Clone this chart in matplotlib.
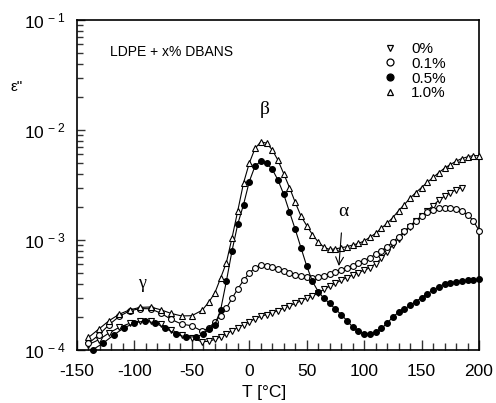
import numpy as np
import matplotlib
matplotlib.use("Agg")
import matplotlib.pyplot as plt
from matplotlib.lines import Line2D
from matplotlib.ticker import FixedLocator, FixedFormatter, MultipleLocator

plt.rcParams['font.family'] = ['Liberation Sans', 'DejaVu Sans']
plt.rcParams['mathtext.fontset'] = 'custom'
plt.rcParams['mathtext.rm'] = 'Liberation Sans'
plt.rcParams['mathtext.default'] = 'regular'
plt.rcParams['axes.unicode_minus'] = False

# ---------------- data ----------------
# measured temperatures (sparser below -40 °C)
T_a = [-140, -131, -122, -113, -104, -95, -86, -77, -68, -59, -50, -41] + list(range(-35, 205, 5))
T_05 = [-136, -127, -118, -109, -100, -91, -82, -73, -64, -55, -46, -40] + list(range(-35, 205, 5))
T_00 = [-140, -131, -122, -113, -104, -95, -86, -77, -68, -59, -50, -41] + list(range(-35, 190, 5))

eps_00 = [1.12e-4, 1.24e-4, 1.43e-4, 1.61e-4, 1.75e-4, 1.84e-4, 1.85e-4, 1.72e-4,
          1.53e-4, 1.37e-4, 1.28e-4, 1.19e-4,
          1.20e-4, 1.25e-4, 1.32e-4,
          1.40e-4, 1.50e-4, 1.60e-4, 1.70e-4, 1.80e-4, 1.92e-4, 2.02e-4, 2.10e-4,
          2.18e-4, 2.28e-4, 2.40e-4, 2.52e-4, 2.65e-4, 2.80e-4, 2.95e-4, 3.10e-4,
          3.30e-4, 3.55e-4, 3.80e-4, 4.05e-4, 4.30e-4, 4.55e-4, 4.80e-4, 5.05e-4,
          5.30e-4, 5.60e-4, 6.10e-4, 6.80e-4, 7.80e-4, 9.00e-4, 1.03e-3, 1.17e-3,
          1.32e-3, 1.48e-3, 1.65e-3, 1.85e-3, 2.05e-3, 2.30e-3, 2.50e-3, 2.70e-3,
          2.85e-3, 3.00e-3]

eps_01 = [1.15e-4, 1.37e-4, 1.70e-4, 2.03e-4, 2.27e-4, 2.38e-4, 2.37e-4, 2.16e-4,
          1.90e-4, 1.72e-4, 1.66e-4, 1.48e-4,
          1.60e-4, 1.80e-4, 2.05e-4,
          2.40e-4, 2.95e-4, 3.60e-4, 4.30e-4, 5.00e-4, 5.60e-4, 5.90e-4, 5.85e-4,
          5.70e-4, 5.50e-4, 5.25e-4, 5.05e-4, 4.85e-4, 4.70e-4, 4.60e-4, 4.55e-4,
          4.60e-4, 4.75e-4, 4.95e-4, 5.15e-4, 5.35e-4, 5.60e-4, 5.85e-4, 6.15e-4,
          6.50e-4, 6.90e-4, 7.40e-4, 8.00e-4, 8.70e-4, 9.60e-4, 1.07e-3, 1.20e-3,
          1.35e-3, 1.50e-3, 1.65e-3, 1.78e-3, 1.88e-3, 1.94e-3, 1.96e-3, 1.95e-3,
          1.90e-3, 1.82e-3, 1.70e-3, 1.50e-3, 1.22e-3]

eps_05 = [1.01e-4, 1.16e-4, 1.37e-4, 1.59e-4, 1.76e-4, 1.84e-4, 1.76e-4, 1.58e-4,
          1.39e-4, 1.31e-4, 1.32e-4, 1.40e-4,
          1.55e-4, 1.70e-4, 2.30e-4, 4.20e-4,
          8.00e-4, 1.40e-3, 2.10e-3, 3.40e-3, 4.70e-3, 5.20e-3, 5.00e-3, 4.40e-3,
          3.50e-3, 2.60e-3, 1.80e-3, 1.25e-3, 8.50e-4, 5.80e-4, 4.20e-4, 3.40e-4,
          2.95e-4, 2.65e-4, 2.35e-4, 2.10e-4, 1.85e-4, 1.62e-4, 1.48e-4, 1.40e-4,
          1.40e-4, 1.45e-4, 1.57e-4, 1.75e-4, 2.00e-4, 2.20e-4, 2.35e-4, 2.55e-4,
          2.75e-4, 3.00e-4, 3.25e-4, 3.50e-4, 3.75e-4, 4.00e-4, 4.10e-4, 4.15e-4,
          4.25e-4, 4.30e-4, 4.35e-4, 4.40e-4]

eps_10 = [1.30e-4, 1.55e-4, 1.85e-4, 2.12e-4, 2.32e-4, 2.44e-4, 2.46e-4, 2.32e-4,
          2.15e-4, 2.04e-4, 2.05e-4, 2.30e-4,
          2.75e-4, 3.30e-4, 4.50e-4,
          6.20e-4, 1.05e-3, 1.85e-3, 3.30e-3, 5.00e-3, 6.80e-3, 7.80e-3, 7.60e-3,
          6.60e-3, 5.30e-3, 4.00e-3, 3.00e-3, 2.20e-3, 1.65e-3, 1.35e-3, 1.12e-3,
          9.60e-4, 8.60e-4, 8.20e-4, 8.30e-4, 8.50e-4, 8.70e-4, 9.00e-4, 9.30e-4,
          9.80e-4, 1.06e-3, 1.15e-3, 1.28e-3, 1.42e-3, 1.60e-3, 1.85e-3, 2.10e-3,
          2.40e-3, 2.70e-3, 3.00e-3, 3.35e-3, 3.70e-3, 4.10e-3, 4.50e-3, 4.85e-3,
          5.20e-3, 5.50e-3, 5.70e-3, 5.85e-3, 5.85e-3]

labels = ['0%', '0.1%', '0.5%', '1.0%']
x_ticks = [-150, -100, -50, 0, 50, 100, 150, 200]
y_ticks = [1e-4, 1e-3, 1e-2, 1e-1]
y_ticklabels = [r'$10^{\,-4}$', r'$10^{\,-3}$', r'$10^{\,-2}$', r'$10^{\,-1}$']

# ---------------- figure ----------------
fig = plt.figure(figsize=(4.96, 4.03), dpi=100)
ax = fig.add_axes([77/496, 1-350/403, (479-77)/496, (350-20)/403])

lw = 0.8
ms = 4.2
common = dict(color='black', linewidth=lw, markersize=ms, markeredgewidth=0.8,
              markeredgecolor='black', clip_on=False)
ax.plot(T_00, eps_00, marker='v', markerfacecolor='white', label=labels[0], zorder=3, **common)
ax.plot(T_a, eps_01, marker='o', markerfacecolor='white', label=labels[1], zorder=3, **common)
ax.plot(T_05, eps_05, marker='o', markerfacecolor='black', label=labels[2], zorder=3, **common)
ax.plot(T_a, eps_10, marker='^', markerfacecolor='white', label=labels[3], zorder=3, **common)

ax.set_yscale('log')
ax.set_xlim(-150, 200)
ax.set_ylim(1e-4, 1e-1)

ax.xaxis.set_major_locator(FixedLocator(x_ticks))
ax.xaxis.set_minor_locator(MultipleLocator(10))
ax.yaxis.set_major_locator(FixedLocator(y_ticks))
ax.yaxis.set_major_formatter(FixedFormatter(y_ticklabels))
minors = [m * 10.0**e for e in (-4, -3, -2) for m in range(2, 10)]
ax.yaxis.set_minor_locator(FixedLocator(minors))
ax.yaxis.set_minor_formatter(FixedFormatter([''] * len(minors)))

ax.tick_params(axis='both', which='both', direction='in', top=False, right=False,
               labelsize=12.5, width=1.0, color='#333333')
ax.tick_params(axis='x', which='major', length=7, pad=10)
ax.tick_params(axis='x', which='minor', length=5)
ax.tick_params(axis='y', which='major', length=6, pad=8)
ax.tick_params(axis='y', which='minor', length=4)
for sp in ax.spines.values():
    sp.set_linewidth(1.2)

ax.set_xlabel('T [°C]', fontsize=12.5)
ax.xaxis.set_label_coords((264-77)/402, -(385-350)/330)
fig.text(17/496, 1-87/403, 'ε"', fontsize=11, ha='center', va='center')

ax.text(0.082, 0.903, 'LDPE + x% DBANS', transform=ax.transAxes, fontsize=10,
        ha='left', va='center')

serif = ['Liberation Serif', 'DejaVu Serif']
ax.text(13.7, 1.52e-2, 'β', fontsize=14, family=serif, ha='center', va='center')
ax.text(-93.4, 4.0e-4, 'γ', fontsize=13, family=serif, ha='center', va='center')
ax.annotate('α', xy=(78, 5.8e-4), xytext=(81.6, 1.8e-3), fontsize=14, family=serif,
            ha='center', va='center',
            arrowprops=dict(arrowstyle='->', color='black', lw=0.8,
                            shrinkA=7, shrinkB=0))

handles = [Line2D([], [], linestyle='none', marker=m, markersize=5,
                  markerfacecolor=fc, markeredgecolor='black', markeredgewidth=0.9)
           for m, fc in (('v', 'white'), ('o', 'white'), ('o', 'black'), ('^', 'white'))]
leg = ax.legend(handles, labels, loc='upper left',
                bbox_to_anchor=((382-77)/402, (350-42)/330), frameon=False,
                fontsize=11, handlelength=1.0, handletextpad=0.9,
                labelspacing=0.05, borderaxespad=0, borderpad=0)

fig.savefig('out.png', dpi=100)
